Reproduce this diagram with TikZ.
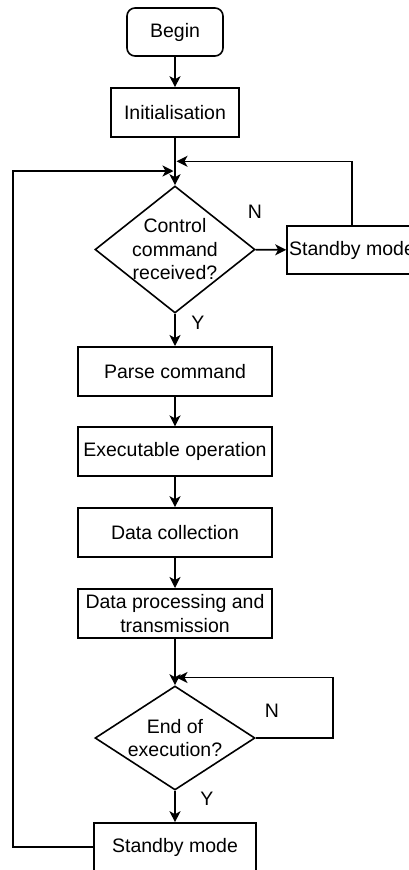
\documentclass[tikz,border=0pt]{standalone}
\usepackage{fontspec}
\setmainfont{Liberation Sans}
\usetikzlibrary{shapes.geometric,arrows.meta}
\begin{document}
\begin{tikzpicture}[x=1pt,y=-1pt,
  font=\fontsize{19.5}{23.5}\selectfont,
  line width=1.6pt,
  box/.style={draw, fill=white, minimum height=49pt, inner sep=0pt, align=center},
  startbox/.style={box, rounded corners=8pt, minimum width=96pt, minimum height=48pt},
  dia/.style={draw, fill=white, diamond, inner sep=0pt, minimum width=160pt},
  arr/.style={-{Stealth[length=11pt,width=11pt,inset=3pt]}},
  lbl/.style={inner sep=0pt}
]
\useasboundingbox (0,0) rectangle (409,870);
\fill[white] (0,0) rectangle (409,870);

\node[startbox] (begin) at (175,32) {Begin};
\node[box, minimum width=128pt] (init) at (175,112.5) {Initialisation};
\node[dia, minimum height=127pt, label={[align=center]center:Control\\command\\received?}] (d1) at (175,249.5) {};
\node[box, minimum width=130pt, minimum height=48pt] (sb1) at (352,250) {Standby mode};
\node[box, minimum width=194pt] (parse) at (175,371.3) {Parse command};
\node[box, minimum width=194pt] (exec) at (175,451.7) {Executable operation};
\node[box, minimum width=194pt] (coll) at (175,532.5) {Data collection};
\node[box, minimum width=194pt] (proc) at (175,613.3) {Data processing and\\transmission};
\node[dia, minimum height=104pt, label={[align=center]center:End of\\execution?}] (d2) at (175,738) {};
\node[box, minimum width=162pt, minimum height=48pt] (sb2) at (175,847) {Standby mode};

\node[lbl] (n1) at (255,212) {N};
\node[lbl] (y1) at (198,323) {Y};
\node[lbl] (n2) at (272,711) {N};
\node[lbl] (y2) at (207,799) {Y};

\coordinate (jr1) at (176.5,161.3);
\coordinate (r1) at (352,161.3);
\coordinate (jl1) at (173.5,171);
\coordinate (l1) at (13,847);
\coordinate (jr2) at (176.5,677.5);
\coordinate (r2) at (333,677.5);

\draw[arr] (begin) -- (init);
\draw[arr] (init) -- (d1);
\draw[arr] (d1) -- (sb1);
\draw[arr] (sb1.north) -- (r1) -- (jr1);
\draw[arr] (d1) -- (parse);
\draw[arr] (parse) -- (exec);
\draw[arr] (exec) -- (coll);
\draw[arr] (coll) -- (proc);
\draw[arr] (proc) -- (d2);
\draw[arr] (d2.east) -| (r2) -- (jr2);
\draw[arr] (d2) -- (sb2);
\draw[arr] (sb2.west) -- (l1) |- (jl1);
\end{tikzpicture}
\end{document}
